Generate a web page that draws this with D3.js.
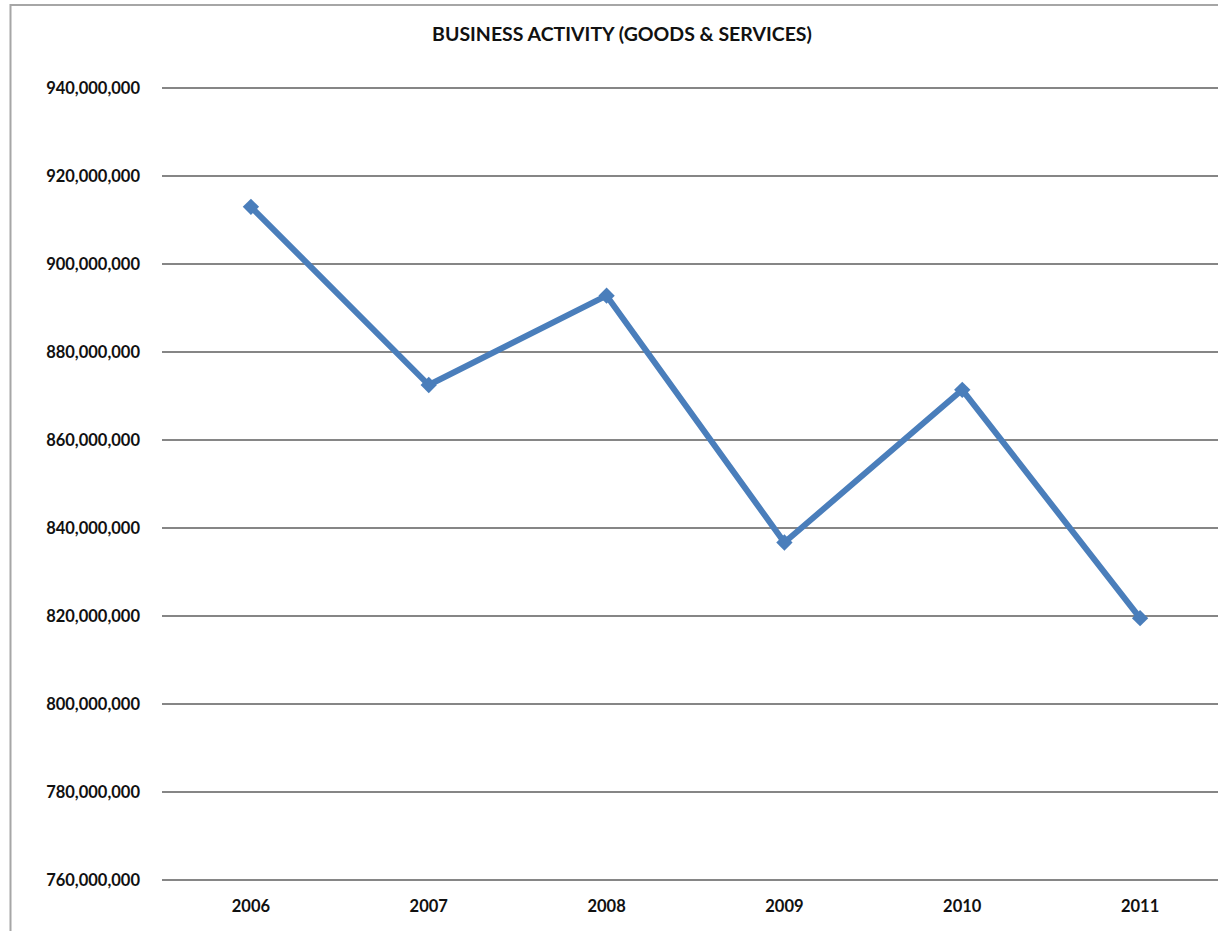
<!DOCTYPE html>
<html><head><meta charset="utf-8">
<script src="https://cdn.jsdelivr.net/npm/d3@7"></script>
<style>html,body{margin:0;padding:0;background:#fff;overflow:hidden}</style>
</head><body>
<svg id="c" width="1218" height="931"></svg>
<script>
const title = "BUSINESS ACTIVITY (GOODS & SERVICES)";
const years = ["2006","2007","2008","2009","2010","2011"];
const values = [913000000, 872500000, 892800000, 836700000, 871400000, 819500000];
const yTicks = [760000000,780000000,800000000,820000000,840000000,860000000,880000000,900000000,920000000,940000000];

const svg = d3.select("#c");
const font = "Lato, 'Open Sans', sans-serif";

// chart border
svg.append("rect").attr("x",10.5).attr("y",5).attr("width",1300).attr("height",1000)
  .attr("fill","none").attr("stroke","#a6a6a6").attr("stroke-width",2);

const x = d3.scalePoint().domain(years).range([162,1229]).padding(0.5);
const y = d3.scaleLinear().domain([760000000,940000000]).range([880,88]);

// gridlines
svg.append("g").selectAll("line").data(yTicks).join("line")
  .attr("x1",162).attr("x2",1229)
  .attr("y1",d=>y(d)).attr("y2",d=>y(d))
  .attr("stroke","#868686").attr("stroke-width",2);

// y labels
const fmt = d3.format(",");
svg.append("g").selectAll("text").data(yTicks).join("text")
  .attr("x",140).attr("y",d=>y(d)).attr("dy","0.35em")
  .attr("text-anchor","end").attr("font-family",font).attr("font-weight","bold")
  .attr("font-size",16.5).attr("fill","#111").text(d=>fmt(d));

// x labels
svg.append("g").selectAll("text").data(years).join("text")
  .attr("x",d=>x(d)).attr("y",906).attr("dy","0.35em")
  .attr("text-anchor","middle").attr("font-family",font).attr("font-weight","bold")
  .attr("font-size",16.5).attr("fill","#111").text(d=>d);

// title
svg.append("text").attr("x",622).attr("y",34).attr("dy","0.35em")
  .attr("text-anchor","middle").attr("font-family",font).attr("font-weight","bold")
  .attr("font-size",19.5).attr("fill","#111").text(title);

const data = years.map((yr,i)=>({yr, v: values[i]}));
svg.append("path").datum(data)
  .attr("d", d3.line().x(d=>x(d.yr)).y(d=>y(d.v)))
  .attr("fill","none").attr("stroke","#4a7ebb").attr("stroke-width",6)
  .attr("stroke-linejoin","round");

svg.append("g").selectAll("path").data(data).join("path")
  .attr("transform",d=>`translate(${x(d.yr)},${y(d.v)})`)
  .attr("d", d3.symbol(d3.symbolDiamond2, 170)())
  .attr("fill","#4a7ebb");
</script>
</body></html>
